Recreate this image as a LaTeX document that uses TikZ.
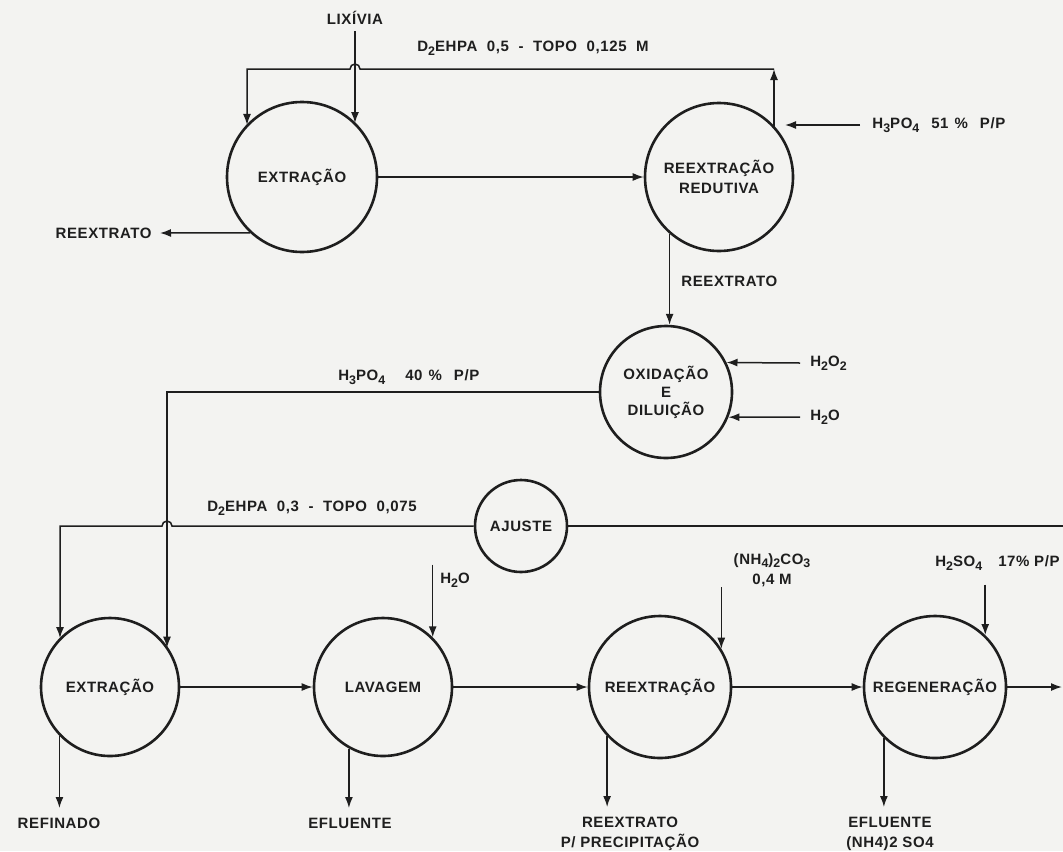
\documentclass[tikz,border=0pt]{standalone}
\usepackage{fontspec}
\setmainfont{Liberation Sans}[LetterSpace=4.0]
\usetikzlibrary{arrows.meta,calc}
\definecolor{bg}{RGB}{243,243,241}
\definecolor{ink}{RGB}{30,30,30}
\newcommand\dgfont{\bfseries\fontsize{7.5}{10}\selectfont}
\newcommand\dsub[1]{\raisebox{-0.45ex}{\fontsize{6.2}{6.2}\selectfont #1}}
\begin{document}
\begin{tikzpicture}[x=0.5pt,y=0.5pt,
  proc/.style={circle,draw=ink,line width=1.3pt,minimum size=#1,inner sep=0pt,
    font=\dgfont,align=center,text=ink},
  flow/.style={draw=ink,line width=0.75pt},
  arr/.style={flow,-{Latex[length=5.5pt,width=4pt]}},
  lbl/.style={font=\dgfont,text=ink,inner sep=0pt,align=center}]
\fill[bg] (0,0) rectangle (1063,-851);
\useasboundingbox (0,0) rectangle (1063,-851);

% process circles
\node[proc=75pt] (ext1) at (302,-177) {EXTRAÇÃO};
\node[proc=74pt] (red)  at (719,-177) {REEXTRAÇÃO\\REDUTIVA};
\node[proc=66pt] (oxi)  at (666,-392) {OXIDAÇÃO\\[-1pt]E\\[-1pt]DILUIÇÃO};
\node[proc=46pt] (aju)  at (521,-526) {AJUSTE};
\node[proc=69pt] (ext2) at (110,-687) {EXTRAÇÃO};
\node[proc=69pt] (lav)  at (383,-687) {LAVAGEM};
\node[proc=71pt] (ree)  at (660,-687) {REEXTRAÇÃO};
\node[proc=71pt] (reg)  at (935,-687) {REGENERAÇÃO};

% top recycle of organic phase
\node[lbl] (lix) at (355,-18) {LIXÍVIA};
\node[lbl] (d05) at (533,-48) {D\dsub{2}EHPA \ 0,5 \ - \ TOPO \ 0,125 \ M};
\coordinate (tr) at (774,-69);
\coordinate (tl) at (247,-69);
\draw[arr] (tr |- red.42) -- (tr);
\draw[arr] (tr) -- (360,-69) arc[start angle=0,end angle=180,radius=5] -- (tl) -- (tl |- ext1.137);
\draw[arr] ([yshift=-3pt]lix.south) -- (lix.south |- ext1.45);

\draw[arr] (ext1.east) -- (red.west);

\node[lbl,anchor=east] (rx1) at (152,-233) {REEXTRATO};
\draw[arr] (ext1.227) -- ([xshift=4pt]rx1.east);

\node[lbl,anchor=west] (h51) at (872,-125) {H\dsub{3}PO\dsub{4}\hspace{6pt}51\hspace{3pt}\%\hspace{6pt}P/P};
\coordinate (h51t) at (785,-125);
\draw[arr] ([xshift=-6pt]h51.west) -- (h51t);

% reextrato to oxidation
\node[lbl,anchor=west] (rx2) at (681,-281) {REEXTRATO};
\draw[arr] (red.229) -- (red.229 |- oxi.87);

\node[lbl,anchor=west] (h22) at (810,-363) {H\dsub{2}O\dsub{2}};
\draw[arr] ([xshift=-5pt]h22.west) -- (oxi.26);
\node[lbl,anchor=west] (h2o) at (810,-417) {H\dsub{2}O};
\draw[arr] ([xshift=-5pt]h2o.west) -- (oxi.-22);

% H3PO4 40 % line
\node[lbl,anchor=west] (h40) at (338,-377) {H\dsub{3}PO\dsub{4}\hspace{10pt}40\hspace{3pt}\%\hspace{6pt}P/P};
\coordinate (c40) at (167,-392);
\draw[arr] (oxi.west) -- (c40) -- (c40 |- ext2.34);

% D2EHPA 0,3 line
\node[lbl] (d03) at (312,-508) {D\dsub{2}EHPA \ 0,3 \ - \ TOPO \ 0,075};
\coordinate (c03) at (60,-526);
\draw[arr] (aju.west) -- (172,-526) arc[start angle=0,end angle=180,radius=5] -- (c03) -- (c03 |- ext2.136);
\coordinate (cr) at (1063,-526);
\draw[flow] (aju.east) -- (cr);

% inputs of lower row
\node[lbl,anchor=west] (wl) at (440,-580) {H\dsub{2}O};
\draw[arr] ($(lav.45 |- wl.north)+(0,8)$) -- (lav.45);
\node[lbl,anchor=north] (nh) at (772,-553) {(NH\dsub{4})\dsub{2}CO\dsub{3}\\0,4 M};
\draw[arr] (ree.32 |- nh.south) -- (ree.32);
\node[lbl,anchor=east] (hs) at (1060,-563) {H\dsub{2}SO\dsub{4}\hspace{8pt}17\% P/P};
\draw[arr] ($(reg.46 |- hs.south)+(0,-14)$) -- (reg.46);

% lower row flows
\draw[arr] (ext2.east) -- (lav.west);
\draw[arr] (lav.east) -- (ree.west);
\draw[arr] (ree.east) -- (reg.west);
\coordinate (cout) at (1062,-687);
\draw[arr] (reg.east) -- (cout);

% outputs
\node[lbl,anchor=north] (ref) at (59,-818) {REFINADO};
\draw[arr] (ext2.224) -- ($(ext2.224 |- ref.north)+(0,10)$);
\node[lbl,anchor=north] (ef1) at (350,-818) {EFLUENTE};
\draw[arr] (lav.241) -- ($(lav.241 |- ef1.north)+(0,10)$);
\node[lbl,anchor=north] (rpp) at (630,-817) {REEXTRATO\\P/ PRECIPITAÇÃO};
\draw[arr] (ree.223) -- ($(ree.223 |- rpp.north)+(0,10)$);
\node[lbl,anchor=north] (ef2) at (890,-817) {EFLUENTE\\(NH4)2 SO4};
\draw[arr] (reg.225) -- ($(reg.225 |- ef2.north)+(0,10)$);
\end{tikzpicture}
\end{document}
